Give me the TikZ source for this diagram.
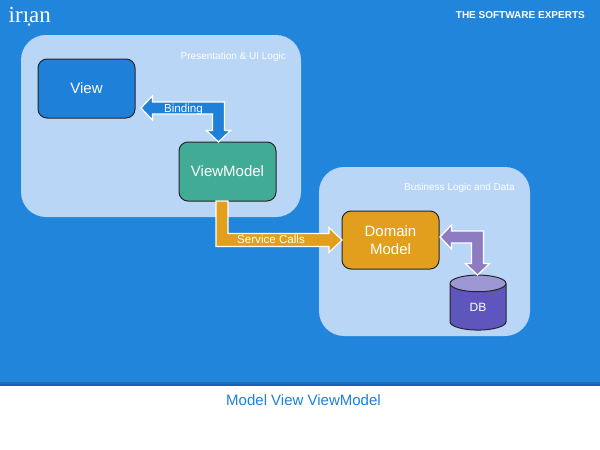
\documentclass[tikz,border=0pt]{standalone}
\usepackage{fontspec}
\setmainfont{Liberation Sans}
\newfontfamily\logofont{Liberation Serif}
\usetikzlibrary{calc,shapes.geometric}
\definecolor{bgblue}{RGB}{33,133,220}
\definecolor{panelblue}{RGB}{186,214,247}
\definecolor{viewblue}{RGB}{31,128,217}
\definecolor{vmgreen}{RGB}{65,171,150}
\definecolor{dmorange}{RGB}{226,159,29}
\definecolor{dbbody}{RGB}{94,86,188}
\definecolor{dbtop}{RGB}{158,151,214}
\definecolor{arrowpurple}{RGB}{142,124,195}
\definecolor{bandone}{RGB}{30,110,185}
\definecolor{bandtwo}{RGB}{21,98,190}
\tikzset{
  panel/.style={fill=panelblue,draw=none,rounded corners=25pt,anchor=north west,inner sep=0pt,outer sep=0pt},
  panellabel/.style={text=white,font=\fontsize{10}{11}\selectfont,anchor=east,inner sep=0pt},
  boxnode/.style={draw=black!85,line width=1pt,rounded corners=9pt,minimum width=97pt,minimum height=59pt,
    inner sep=0pt,outer sep=0pt,text=white,align=center,font=\fontsize{15}{18.5}\selectfont,anchor=north west},
  fatarrow/.style={draw=white,line width=1.2pt,miter limit=10},
  arrowlabel/.style={text=white,font=\fontsize{11.6}{13}\selectfont,inner sep=0pt}
}
% double-headed elbow: head #1 points left, head #2 points down
\newcommand{\elbowarrow}[3]{%
  \path[fatarrow,fill=#3] let \p1=#1,\p2=#2 in
    (\x1,\y1) -- (\x1+11.5pt,\y1+12pt) -- (\x1+11.5pt,\y1+6pt) -- (\x2+6pt,\y1+6pt)
    -- (\x2+6pt,\y2+11.5pt) -- (\x2+12pt,\y2+11.5pt) -- (\x2,\y2) -- (\x2-12pt,\y2+11.5pt)
    -- (\x2-6pt,\y2+11.5pt) -- (\x2-6pt,\y1-6pt) -- (\x1+11.5pt,\y1-6pt) -- (\x1+11.5pt,\y1-12pt) -- cycle;}
\begin{document}
\begin{tikzpicture}[x=1pt,y=-1pt]
\useasboundingbox (0,0) rectangle (600,450);
\fill[white] (0,0) rectangle (600,450);
\fill[bgblue] (0,0) rectangle (600,382);
\fill[bandone] (0,382) rectangle (600,384);
\fill[bandtwo] (0,384) rectangle (600,386);

\node[text=white,font=\logofont\fontsize{23}{26}\selectfont,anchor=west,inner sep=0pt] (logo) at (8.5,17) {irı\char"0323 an};
\node[text=white,font=\bfseries\fontsize{10}{11}\selectfont,anchor=east,inner sep=0pt] (slogan) at (585,15.5) {THE SOFTWARE EXPERTS};

\node[panel,minimum width=280pt,minimum height=182pt] (panelA) at (21,35) {};
\node[panel,minimum width=211pt,minimum height=169pt] (panelB) at (319,167) {};
\node[panellabel] (panelAlabel) at (286,57) {Presentation \& UI Logic};
\node[panellabel] (panelBlabel) at (515,188) {Business Logic and Data};

\node[boxnode,fill=viewblue] (view) at (38,59) {View};
\node[boxnode,fill=vmgreen] (vm) at (179,142) {ViewModel};
\node[boxnode,fill=dmorange,minimum height=58pt] (dm) at (342,211) {Domain\\Model};

\node[cylinder,shape border rotate=90,aspect=1,draw=black!85,line width=1pt,
  cylinder uses custom fill,cylinder body fill=dbbody,cylinder end fill=dbtop,
  minimum width=56pt,minimum height=55pt,inner sep=0pt,outer sep=0pt,text=white,
  font=\fontsize{12}{14}\selectfont] (db) at (478,307) {DB};

% Binding
\elbowarrow{($(view.south east)+(6,-10)$)}{($(vm.north)+(-9,0)$)}{viewblue}
% Domain Model <-> DB
\elbowarrow{($(dm.east)+(1,-3)$)}{($(db.north)+(-.5,0)$)}{arrowpurple}
% Service Calls
\path[fatarrow,fill=dmorange] let \p1=($(vm.south)+(-5.5,0)$),\p2=(dm.west) in
  (\x1-6pt,\y1) -- (\x1+6pt,\y1) -- (\x1+6pt,\y2+6.5pt) -- (\x2-13pt,\y2+6.5pt)
  -- (\x2-13pt,\y2+12.5pt) -- (\x2,\y2) -- (\x2-13pt,\y2-12.5pt) -- (\x2-13pt,\y2-6.5pt)
  -- (\x1-6pt,\y2-6.5pt) -- cycle;

\node[arrowlabel,anchor=base] (bindlabel) at (183.5,112) {Binding};
\node[arrowlabel,anchor=base] (calllabel) at (271,243.5) {Service Calls};

\node[text=viewblue,font=\fontsize{15}{17}\selectfont,inner sep=0pt] (title) at (303.5,400) {Model View ViewModel};
\end{tikzpicture}
\end{document}
